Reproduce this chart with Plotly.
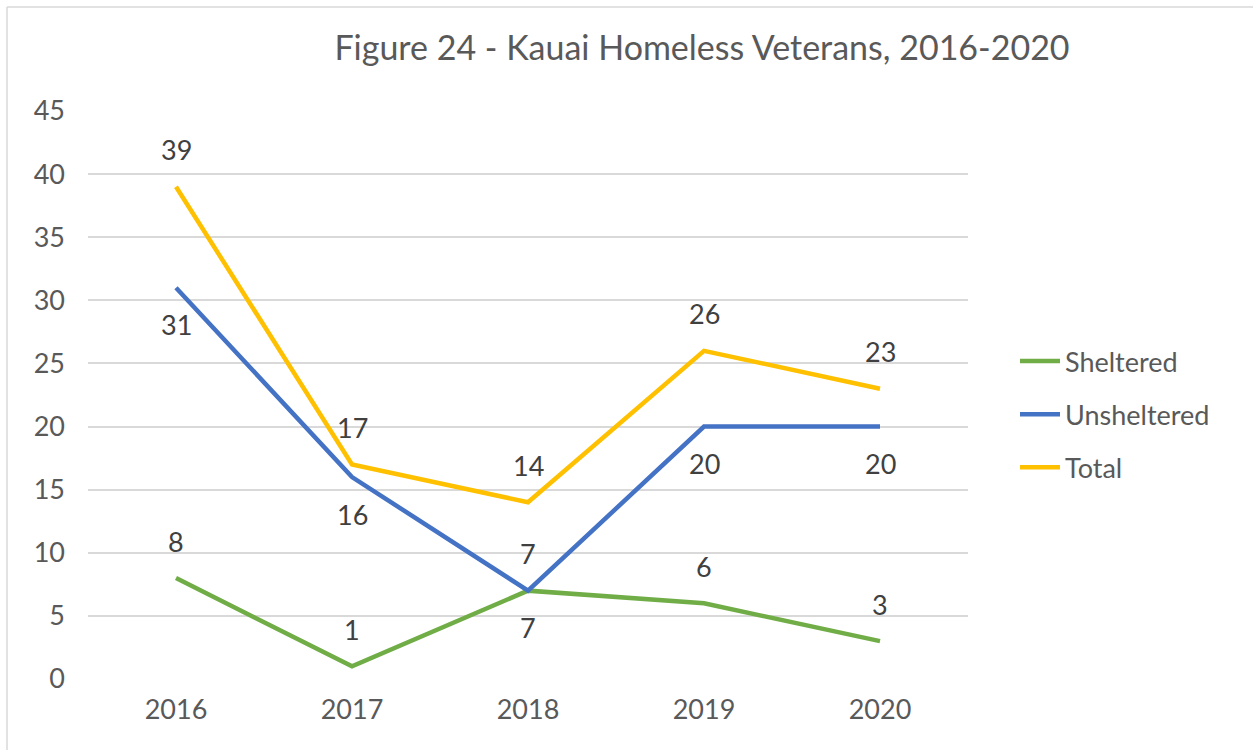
import plotly.graph_objects as go

years = ["2016", "2017", "2018", "2019", "2020"]
sheltered = [8, 1, 7, 6, 3]
unsheltered = [31, 16, 7, 20, 20]
total = [39, 17, 14, 26, 23]
y_ticks = [0, 5, 10, 15, 20, 25, 30, 35, 40, 45]

FONT = "Lato, Open Sans, sans-serif"
W, H = 1253, 750
L, R, T, B = 88, 285, 111, 71
pw, ph = W - L - R, H - T - B

fig = go.Figure()
series = [
    ("Sheltered", sheltered, "#70AD47", 1),
    ("Unsheltered", unsheltered, "#4472C4", -1),
    ("Total", total, "#FFC000", 1),
]
for name, vals, color, side in series:
    fig.add_trace(go.Scatter(
        x=years, y=vals, name=name, mode="lines",
        line=dict(color=color, width=4.5), legendgroup=name,
    ))
    for i, yv in enumerate(vals):
        fig.add_annotation(x=i, y=yv, xref="x", yref="y", text=str(yv),
                           showarrow=False, yshift=37 * side,
                           xanchor="center", yanchor="middle",
                           font=dict(family=FONT, size=27, color="#404040"))

# chart border (top and left visible)
px = lambda x: (x - L) / pw
py = lambda y: 1 - (y - T) / ph
fig.add_shape(type="line", xref="paper", yref="paper",
              x0=px(7), x1=px(1260), y0=py(7), y1=py(7),
              line=dict(color="#D9D9D9", width=1.5))
fig.add_shape(type="line", xref="paper", yref="paper",
              x0=px(7), x1=px(7), y0=py(7), y1=py(760),
              line=dict(color="#D9D9D9", width=1.5))

fig.update_layout(
    width=W, height=H,
    margin=dict(l=L, r=R, t=T, b=B),
    paper_bgcolor="white", plot_bgcolor="white",
    title=dict(text="Figure 24 - Kauai Homeless Veterans, 2016-2020",
               x=702 / W, xanchor="center", y=1 - 48 / H, yanchor="middle",
               font=dict(family=FONT, size=34, color="#595959")),
    xaxis=dict(type="category", range=[-0.5, 4.5], showgrid=False,
               showline=False, zeroline=False, ticks="",
               tickfont=dict(family=FONT, size=27, color="#595959"),
               ticklabelstandoff=12),
    yaxis=dict(range=[0, 45], tickvals=y_ticks, showgrid=True,
               gridcolor="#D9D9D9", gridwidth=1.5, zeroline=False,
               showline=False, ticks="",
               tickfont=dict(family=FONT, size=27, color="#595959"),
               ticklabelstandoff=22),
    legend=dict(x=(1015 - L) / pw, y=py(337), xanchor="left", yanchor="top",
                font=dict(family=FONT, size=27, color="#595959"),
                tracegroupgap=15, itemwidth=40, bgcolor="rgba(0,0,0,0)"),
    showlegend=True,
)
fig.write_html("out.html", config={"displayModeBar": False},
               post_script="document.body.style.margin='0px';")
